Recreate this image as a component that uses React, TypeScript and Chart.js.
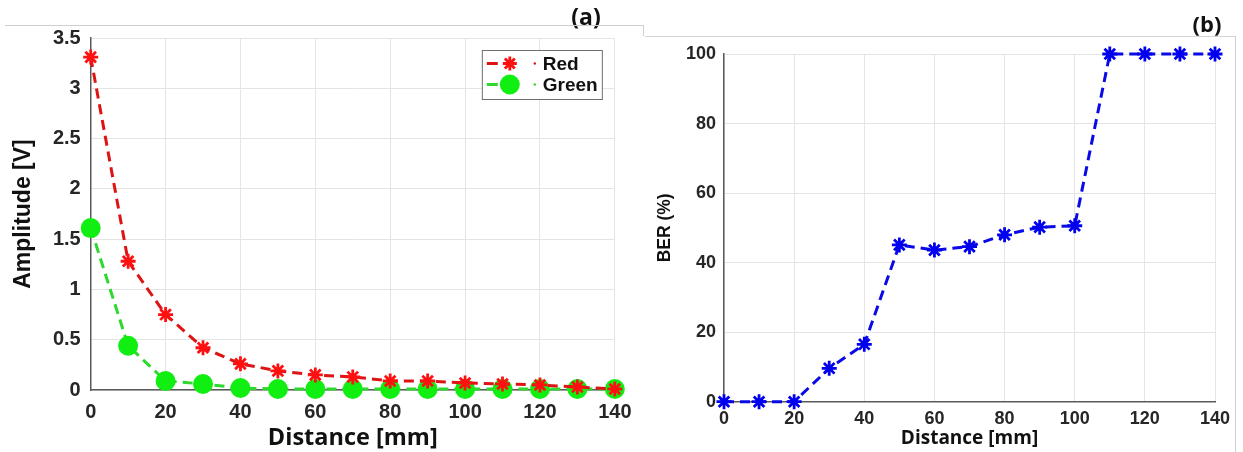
import React, { useEffect, useRef } from "react";
import { Chart, registerables } from "chart.js";

Chart.register(...registerables);

// ---------- data ----------
const distances = [0, 10, 20, 30, 40, 50, 60, 70, 80, 90, 100, 110, 120, 130, 140];
const redAmplitude = [3.31, 1.28, 0.75, 0.42, 0.26, 0.19, 0.15, 0.13, 0.09, 0.09, 0.07, 0.06, 0.05, 0.03, 0.01];
const greenAmplitude = [1.61, 0.44, 0.09, 0.06, 0.02, 0.01, 0.01, 0.01, 0.01, 0.01, 0.01, 0.01, 0.01, 0.01, 0.01];
const berPercent = [0, 0, 0, 9.6, 16.5, 45.1, 43.6, 44.6, 48, 50.2, 50.6, 100, 100, 100, 100];

const distanceTicks = [0, 20, 40, 60, 80, 100, 120, 140];
const amplitudeTicks = [0, 0.5, 1, 1.5, 2, 2.5, 3, 3.5];
const berTicks = [0, 20, 40, 60, 80, 100];

const FONT = "'Liberation Sans', Arial, Helvetica, sans-serif";
const FONT_OS = "'Open Sans', 'Liberation Sans', sans-serif";
const TEXT = "#262626";
const GRID = "#e4e4e4";
const AXIS = "#5a5a5a";

const toPoints = (ys: number[]) => distances.map((x, i) => ({ x, y: ys[i] }));

function drawStar(ctx: CanvasRenderingContext2D, x: number, y: number, r: number, color: string, w: number) {
  ctx.save();
  ctx.strokeStyle = color;
  ctx.lineWidth = w;
  ctx.beginPath();
  const d = r * Math.SQRT1_2;
  ctx.moveTo(x - r, y); ctx.lineTo(x + r, y);
  ctx.moveTo(x, y - r); ctx.lineTo(x, y + r);
  ctx.moveTo(x - d, y - d); ctx.lineTo(x + d, y + d);
  ctx.moveTo(x - d, y + d); ctx.lineTo(x + d, y - d);
  ctx.stroke();
  ctx.restore();
}

const boxLegend = {
  id: "boxLegend",
  afterDraw(chart: any) {
    const { ctx, chartArea } = chart;
    const w = 120, h = 49;
    const x = chartArea.right - 13 - w;
    const y = chartArea.top + 12;
    ctx.save();
    ctx.fillStyle = "#ffffff";
    ctx.fillRect(x, y, w, h);
    ctx.strokeStyle = "#6e6e6e";
    ctx.lineWidth = 1;
    ctx.strokeRect(x + 0.5, y + 0.5, w, h);
    chart.data.datasets.forEach((ds: any, i: number) => {
      const ry = y + 13.5 + i * 21;
      ctx.strokeStyle = ds.borderColor;
      ctx.lineWidth = 3;
      ctx.beginPath();
      ctx.moveTo(x + 5, ry);
      ctx.lineTo(x + 16, ry);
      ctx.stroke();
      if (ds.pointStyle === "star") {
        drawStar(ctx, x + 28, ry, 7, ds.pointBorderColor, 2.8);
      } else {
        ctx.fillStyle = ds.pointBackgroundColor;
        ctx.beginPath();
        ctx.arc(x + 28, ry, 10, 0, Math.PI * 2);
        ctx.fill();
      }
      ctx.fillStyle = ds.borderColor;
      ctx.beginPath();
      ctx.arc(x + 53, ry, 1.2, 0, Math.PI * 2);
      ctx.fill();
      ctx.fillStyle = "#111";
      ctx.font = `bold 19px ${FONT}`;
      ctx.textBaseline = "middle";
      ctx.textAlign = "left";
      ctx.fillText(ds.label, x + 61, ry + 1);
    });
    ctx.restore();
  },
};

const panelTag = (text: string, cx: number, cy: number, size: number) => ({
  id: "panelTag" + text,
  afterDraw(chart: any) {
    const { ctx } = chart;
    ctx.save();
    ctx.fillStyle = "#111";
    ctx.font = `bold ${size}px ${FONT_OS}`;
    ctx.textAlign = "center";
    ctx.textBaseline = "middle";
    ctx.fillText(text, cx, cy);
    ctx.restore();
  },
});

function makeXScale(tickSize: number, tickPad: number, titleSize: number, titlePadBottom: number, height: number) {
  return {
    type: "linear",
    min: 0,
    max: 140,
    afterBuildTicks: (s: any) => { s.ticks = distanceTicks.map((v) => ({ value: v })); },
    afterFit: (s: any) => { s.height = height; },
    grid: { color: GRID, drawTicks: false, lineWidth: 1 },
    border: { display: true, color: AXIS, width: 1.5 },
    ticks: { color: TEXT, padding: tickPad, font: { family: FONT, size: tickSize, weight: "bold" }, maxRotation: 0 },
    title: {
      display: true,
      text: "Distance [mm]",
      color: "#111",
      font: { family: FONT_OS, size: titleSize, weight: "bold" },
      padding: { top: 0, bottom: titlePadBottom },
    },
  };
}

function AmplitudeChart() {
  const ref = useRef<HTMLCanvasElement | null>(null);
  useEffect(() => {
    if (!ref.current) return;
    const chart = new Chart(ref.current, {
      type: "line",
      data: {
        datasets: [
          {
            label: "Red",
            data: toPoints(redAmplitude),
            borderColor: "#dd1414",
            borderWidth: 3,
            borderDash: [10, 6],
            pointStyle: "star",
            pointRadius: 7.5,
            pointBorderWidth: 2.8,
            pointBorderColor: "#ff1010",
            pointBackgroundColor: "#ff1010",
            clip: false,
          },
          {
            label: "Green",
            data: toPoints(greenAmplitude),
            borderColor: "#2ed82e",
            borderWidth: 3,
            borderDash: [10, 6],
            pointStyle: "circle",
            pointRadius: 10,
            pointBorderWidth: 0,
            pointBorderColor: "#11ee11",
            pointBackgroundColor: "#11ee11",
            clip: false,
          },
        ],
      } as any,
      options: {
        responsive: false,
        animation: false,
        events: [],
        layout: { padding: { top: 38, right: 18, left: 0, bottom: 0 } },
        plugins: { legend: { display: false }, tooltip: { enabled: false } },
        scales: {
          x: makeXScale(20, 10.5, 23.5, 0, 62),
          y: {
            type: "linear",
            min: 0,
            max: 3.5,
            afterBuildTicks: (s: any) => { s.ticks = amplitudeTicks.map((v) => ({ value: v })); },
            afterFit: (s: any) => { s.width = 90.7; },
            grid: { color: GRID, drawTicks: false },
            border: { display: true, color: AXIS, width: 1.5 },
            ticks: {
              color: TEXT,
              padding: 10,
              font: { family: FONT, size: 20, weight: "bold" },
              callback: (v: any) => String(v),
            },
            title: {
              display: true,
              text: "Amplitude [V]",
              color: "#111",
              font: { family: FONT, size: 23, weight: "bold" },
              padding: { top: 9.5, bottom: 0 },
            },
          },
        },
      } as any,
      plugins: [boxLegend, panelTag("(a)", 586, 18, 23)],
    });
    return () => chart.destroy();
  }, []);
  return <canvas ref={ref} width={642} height={452} style={{ display: "block" }} />;
}

function BerChart() {
  const ref = useRef<HTMLCanvasElement | null>(null);
  useEffect(() => {
    if (!ref.current) return;
    const chart = new Chart(ref.current, {
      type: "line",
      data: {
        datasets: [
          {
            label: "BER",
            data: toPoints(berPercent),
            borderColor: "#0a0ae6",
            borderWidth: 3,
            borderDash: [10, 6],
            pointStyle: "star",
            pointRadius: 7.5,
            pointBorderWidth: 2.8,
            pointBorderColor: "#0000ee",
            pointBackgroundColor: "#0000ee",
            clip: false,
          },
        ],
      } as any,
      options: {
        responsive: false,
        animation: false,
        events: [],
        layout: { padding: { top: 54, right: 28, left: 0, bottom: 0 } },
        plugins: { legend: { display: false }, tooltip: { enabled: false } },
        scales: {
          x: makeXScale(18, 7, 19, 2.5, 50.3),
          y: {
            type: "linear",
            min: 0,
            max: 100,
            afterBuildTicks: (s: any) => { s.ticks = berTicks.map((v) => ({ value: v })); },
            afterFit: (s: any) => { s.width = 82; },
            grid: { color: GRID, drawTicks: false },
            border: { display: true, color: AXIS, width: 1.5 },
            ticks: { color: TEXT, padding: 8, font: { family: FONT, size: 18, weight: "bold" } },
            title: {
              display: true,
              text: "BER (%)",
              color: "#111",
              font: { family: FONT, size: 17.5, weight: "bold" },
              padding: { top: 12.5, bottom: 0 },
            },
          },
        },
      } as any,
      plugins: [panelTag("(b)", 565, 26, 22)],
    });
    return () => chart.destroy();
  }, []);
  return <canvas ref={ref} width={601} height={452} style={{ display: "block" }} />;
}

export default function App() {
  return (
    <div style={{ position: "absolute", left: 0, top: 0, width: 1243, height: 452, background: "#fff", overflow: "hidden" }}>
      <div style={{ position: "absolute", left: 0, top: 0 }}>
        <AmplitudeChart />
      </div>
      <div style={{ position: "absolute", left: 642, top: 0 }}>
        <BerChart />
      </div>
      {/* figure frame lines */}
      <div style={{ position: "absolute", left: 5, top: 25, width: 638, height: 0, borderTop: "1px solid #cfcfcf" }} />
      <div style={{ position: "absolute", left: 643, top: 25, width: 0, height: 11, borderLeft: "1px solid #cfcfcf" }} />
      <div style={{ position: "absolute", left: 645, top: 36, width: 590, height: 0, borderTop: "1px solid #d6d6d6" }} />
      <div style={{ position: "absolute", left: 1235, top: 36, width: 0, height: 416, borderLeft: "1px solid #cfcfcf" }} />
    </div>
  );
}
